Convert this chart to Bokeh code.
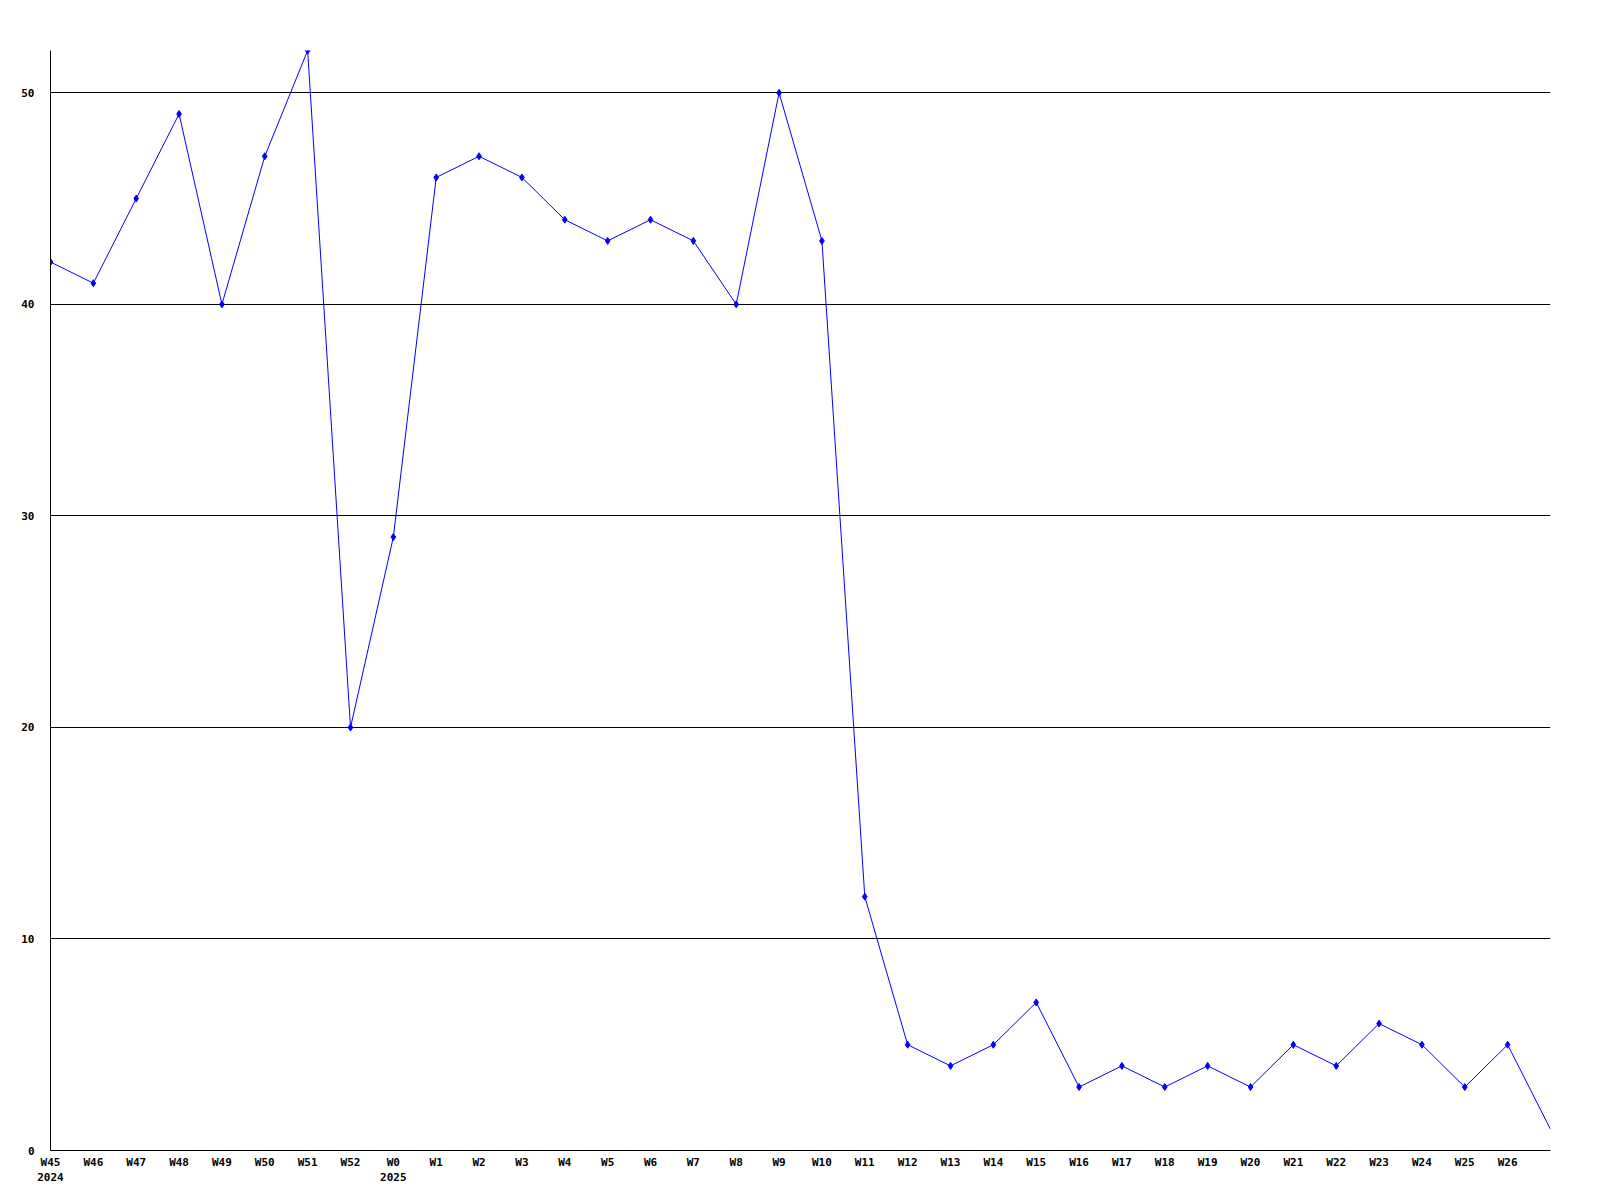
from bokeh.plotting import figure
from bokeh.models import Range1d, FixedTicker
from bokeh.embed import file_html
from bokeh.resources import INLINE

weeks = ["W45", "W46", "W47", "W48", "W49", "W50", "W51", "W52", "W0",
         "W1", "W2", "W3", "W4", "W5", "W6", "W7", "W8", "W9", "W10",
         "W11", "W12", "W13", "W14", "W15", "W16", "W17", "W18", "W19", "W20",
         "W21", "W22", "W23", "W24", "W25", "W26", "W27"]
values = [42, 41, 45, 49, 40, 47, 52, 20, 29,
          46, 47, 46, 44, 43, 44, 43, 40, 50, 43,
          12, 5, 4, 5, 7, 3, 4, 3, 4, 3,
          5, 4, 6, 5, 3, 5, 1]
year_marks = {"W45": "2024", "W0": "2025"}
y_ticks = [0, 10, 20, 30, 40, 50]

xs = list(range(len(weeks)))
labels = {}
for i, w in enumerate(weeks[:-1]):
    labels[i] = w + ("\n" + year_marks[w] if w in year_marks else "")

p = figure(width=1568, height=1193, output_backend="svg", toolbar_location=None,
           x_range=Range1d(0, len(weeks) - 1), y_range=Range1d(0, max(values)),
           min_border_left=50, min_border_right=18, min_border_top=50, min_border_bottom=43)
p.outline_line_color = None
p.background_fill_color = "white"
p.border_fill_color = "white"

p.line(xs, values, line_color="#0000FF", line_width=1)
p.scatter(xs[:-1], values[:-1], marker="diamond", size=7, fill_color="#0000FF", line_color="#0000FF")

font = "DejaVu Sans Mono"
p.xaxis.ticker = FixedTicker(ticks=xs[:-1])
p.xaxis.major_label_overrides = labels
p.yaxis.ticker = FixedTicker(ticks=y_ticks)
for ax in (p.xaxis[0], p.yaxis[0]):
    ax.major_tick_line_color = None
    ax.minor_tick_line_color = None
    ax.major_tick_out = 0
    ax.major_tick_in = 0
    ax.minor_tick_out = 0
    ax.axis_line_color = "black"
    ax.axis_line_width = 1
    ax.major_label_text_font = font
    ax.major_label_text_font_style = "bold"
    ax.major_label_text_font_size = "11px"
    ax.major_label_text_color = "black"
p.xaxis.major_label_standoff = 5
p.yaxis.major_label_standoff = 16

p.xgrid.grid_line_color = None
p.ygrid.grid_line_color = "black"
p.ygrid.grid_line_width = 1

open("out.html", "w").write(file_html(p, INLINE))
